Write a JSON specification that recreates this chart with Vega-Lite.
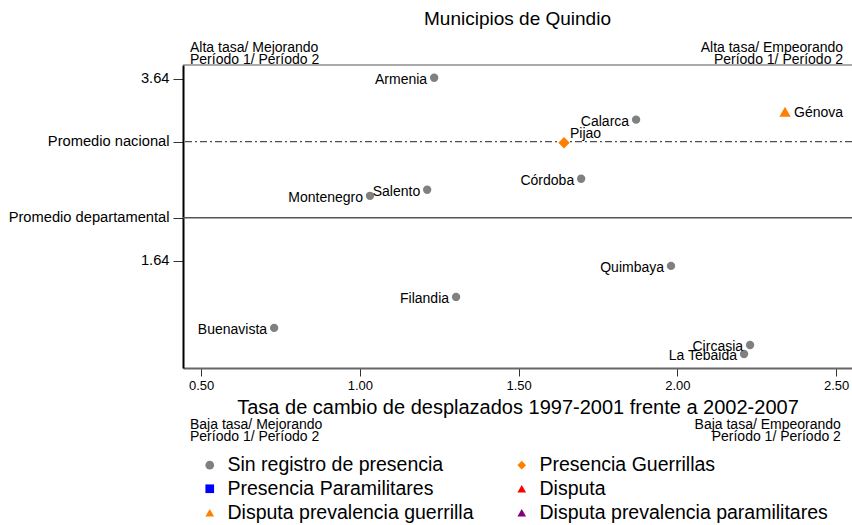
{
  "$schema": "https://vega.github.io/schema/vega-lite/v6.json",
  "width": 669,
  "height": 303,
  "autosize": {"type": "none"},
  "padding": {"left": 183, "top": 65, "right": 0, "bottom": 157},
  "background": "white",
  "config": {"view": {"stroke": null}, "font": "Liberation Sans"},
  "title": {"text": "Municipios de Quindio", "fontSize": 19, "fontWeight": "normal", "font": "Liberation Sans", "frame": "group", "offset": 12, "color": "black"},
  "datasets": {
    "pts": [
      {"name": "Armenia", "x": 1.234, "y": 3.65, "cat": "Sin registro de presencia", "pos": "left"},
      {"name": "Calarca", "x": 1.870, "y": 3.19, "cat": "Sin registro de presencia", "pos": "left"},
      {"name": "Génova", "x": 2.339, "y": 3.277, "cat": "Disputa prevalencia guerrilla", "pos": "right"},
      {"name": "Pijao", "x": 1.643, "y": 2.937, "cat": "Presencia Guerrillas", "pos": "above"},
      {"name": "Córdoba", "x": 1.697, "y": 2.541, "cat": "Sin registro de presencia", "pos": "left"},
      {"name": "Salento", "x": 1.212, "y": 2.42, "cat": "Sin registro de presencia", "pos": "left"},
      {"name": "Montenegro", "x": 1.032, "y": 2.354, "cat": "Sin registro de presencia", "pos": "left"},
      {"name": "Quimbaya", "x": 1.980, "y": 1.585, "cat": "Sin registro de presencia", "pos": "left"},
      {"name": "Filandia", "x": 1.303, "y": 1.244, "cat": "Sin registro de presencia", "pos": "left"},
      {"name": "Buenavista", "x": 0.730, "y": 0.904, "cat": "Sin registro de presencia", "pos": "left"},
      {"name": "Circasia", "x": 2.229, "y": 0.717, "cat": "Sin registro de presencia", "pos": "left"},
      {"name": "La Tebaida", "x": 2.210, "y": 0.618, "cat": "Sin registro de presencia", "pos": "left"}
    ],
    "notes": [
      {"t": "Alta tasa/ Mejorando\nPeríodo 1/ Período 2", "x": 0.465, "y": 3.90, "side": "left", "vb": "bottom"},
      {"t": "Alta tasa/ Empeorando\nPeríodo 1/ Período 2", "x": 2.522, "y": 3.90, "side": "right", "vb": "bottom"},
      {"t": "Baja tasa/ Mejorando\nPeríodo 1/ Período 2", "x": 0.465, "y": -0.085, "side": "left", "vb": "top"},
      {"t": "Baja tasa/ Empeorando\nPeríodo 1/ Período 2", "x": 2.515, "y": -0.085, "side": "right", "vb": "top"}
    ],
    "refs": [
      {"y": 2.113, "kind": "dep"},
      {"y": 2.948, "kind": "nac"},
      {"y": 3.79, "kind": "top"}
    ]
  },
  "layer": [
    {
      "data": {"name": "refs"},
      "transform": [{"filter": "datum.kind == 'dep'"}],
      "mark": {"type": "rule", "color": "#555555", "strokeWidth": 1.5},
      "encoding": {"y": {"field": "y", "type": "quantitative"}}
    },
    {
      "data": {"name": "refs"},
      "transform": [{"filter": "datum.kind == 'nac'"}],
      "mark": {"type": "rule", "color": "#222222", "strokeWidth": 1, "strokeDash": [7, 3, 2, 3]},
      "encoding": {"y": {"field": "y", "type": "quantitative"}}
    },
    {
      "data": {"name": "refs"},
      "transform": [{"filter": "datum.kind == 'top'"}],
      "mark": {"type": "rule", "color": "#555555", "strokeWidth": 1.2},
      "encoding": {"y": {"field": "y", "type": "quantitative"}}
    },
    {
      "data": {"name": "pts"},
      "transform": [{"filter": "datum.cat == 'Sin registro de presencia'"}],
      "mark": {"type": "point", "filled": true, "opacity": 1, "size": 70},
      "encoding": {
        "x": {
          "field": "x", "type": "quantitative",
          "scale": {"domain": [0.443, 2.55], "nice": false, "zero": false},
          "axis": {
            "values": [0.5, 1, 1.5, 2, 2.5], "format": ".2f", "grid": false,
            "title": "Tasa de cambio de desplazados 1997-2001 frente a 2002-2007",
            "titleFontSize": 20, "titleFontWeight": "normal", "titleColor": "black", "titlePadding": 5,
            "labelFontSize": 13, "labelColor": "black", "labelPadding": 3,
            "tickSize": 8, "tickColor": "#333333", "tickWidth": 1,
            "domainColor": "#666666", "domainWidth": 2
          }
        },
        "y": {
          "field": "y", "type": "quantitative",
          "scale": {"domain": [0.464, 3.79], "nice": false, "zero": false},
          "axis": {
            "values": [3.64, 2.948, 2.113, 1.64], "grid": false, "title": null,
            "labelExpr": "datum.value == 3.64 ? '3.64' : datum.value == 1.64 ? '1.64' : datum.value > 2.5 ? 'Promedio nacional' : 'Promedio departamental'",
            "labelFontSize": 14.7, "labelColor": "black", "labelPadding": 4, "labelLimit": 300,
            "tickSize": 10, "tickColor": "#333333", "tickWidth": 1,
            "domainColor": "black", "domainWidth": 2
          }
        },
        "color": {
          "field": "cat", "type": "nominal",
          "scale": {
            "domain": ["Sin registro de presencia", "Presencia Paramilitares", "Disputa prevalencia guerrilla", "Presencia Guerrillas", "Disputa", "Disputa prevalencia paramilitares"],
            "range": ["#808080", "#0000FF", "#FF7F00", "#FF7F00", "#FF0000", "#800080"]
          },
          "legend": {
            "orient": "none", "legendX": 17, "legendY": 390, "columns": 2, "title": null,
            "labelFontSize": 19.5, "labelColor": "black", "symbolSize": 75, "labelOffset": 8,
            "rowPadding": 3, "columnPadding": 38, "labelLimit": 400, "symbolStrokeWidth": 0
          }
        },
        "shape": {
          "field": "cat", "type": "nominal",
          "scale": {
            "domain": ["Sin registro de presencia", "Presencia Paramilitares", "Disputa prevalencia guerrilla", "Presencia Guerrillas", "Disputa", "Disputa prevalencia paramilitares"],
            "range": ["circle", "square", "triangle-up", "diamond", "triangle-up", "triangle-up"]
          }
        }
      }
    },
    {
      "data": {"name": "pts"},
      "transform": [{"filter": "datum.cat != 'Sin registro de presencia'"}],
      "mark": {"type": "point", "filled": true, "opacity": 1, "size": 130},
      "encoding": {
        "x": {"field": "x", "type": "quantitative"},
        "y": {"field": "y", "type": "quantitative"},
        "color": {"field": "cat", "type": "nominal"},
        "shape": {"field": "cat", "type": "nominal"}
      }
    },
    {
      "data": {"name": "pts"},
      "transform": [{"filter": "datum.pos == 'left'"}],
      "mark": {"type": "text", "align": "right", "baseline": "middle", "dx": -7, "dy": 2, "fontSize": 14, "color": "black"},
      "encoding": {
        "x": {"field": "x", "type": "quantitative"},
        "y": {"field": "y", "type": "quantitative"},
        "text": {"field": "name"}
      }
    },
    {
      "data": {"name": "pts"},
      "transform": [{"filter": "datum.pos == 'right'"}],
      "mark": {"type": "text", "align": "left", "baseline": "middle", "dx": 9, "dy": 1, "fontSize": 14, "color": "black"},
      "encoding": {
        "x": {"field": "x", "type": "quantitative"},
        "y": {"field": "y", "type": "quantitative"},
        "text": {"field": "name"}
      }
    },
    {
      "data": {"name": "pts"},
      "transform": [{"filter": "datum.pos == 'above'"}],
      "mark": {"type": "text", "align": "left", "baseline": "middle", "dx": 6, "dy": -9, "fontSize": 14, "color": "black"},
      "encoding": {
        "x": {"field": "x", "type": "quantitative"},
        "y": {"field": "y", "type": "quantitative"},
        "text": {"field": "name"}
      }
    },
    {
      "data": {"name": "notes"},
      "transform": [{"filter": "datum.side == 'left' && datum.vb == 'bottom'"}],
      "mark": {"type": "text", "align": "left", "baseline": "bottom", "lineBreak": "\n", "lineHeight": 12, "fontSize": 14, "color": "black"},
      "encoding": {
        "x": {"field": "x", "type": "quantitative"},
        "y": {"field": "y", "type": "quantitative"},
        "text": {"field": "t"}
      }
    },
    {
      "data": {"name": "notes"},
      "transform": [{"filter": "datum.side == 'right' && datum.vb == 'bottom'"}],
      "mark": {"type": "text", "align": "right", "baseline": "bottom", "lineBreak": "\n", "lineHeight": 12, "fontSize": 14, "color": "black"},
      "encoding": {
        "x": {"field": "x", "type": "quantitative"},
        "y": {"field": "y", "type": "quantitative"},
        "text": {"field": "t"}
      }
    },
    {
      "data": {"name": "notes"},
      "transform": [{"filter": "datum.side == 'left' && datum.vb == 'top'"}],
      "mark": {"type": "text", "align": "left", "baseline": "top", "lineBreak": "\n", "lineHeight": 12, "fontSize": 14, "color": "black"},
      "encoding": {
        "x": {"field": "x", "type": "quantitative"},
        "y": {"field": "y", "type": "quantitative"},
        "text": {"field": "t"}
      }
    },
    {
      "data": {"name": "notes"},
      "transform": [{"filter": "datum.side == 'right' && datum.vb == 'top'"}],
      "mark": {"type": "text", "align": "right", "baseline": "top", "lineBreak": "\n", "lineHeight": 12, "fontSize": 14, "color": "black"},
      "encoding": {
        "x": {"field": "x", "type": "quantitative"},
        "y": {"field": "y", "type": "quantitative"},
        "text": {"field": "t"}
      }
    }
  ]
}
